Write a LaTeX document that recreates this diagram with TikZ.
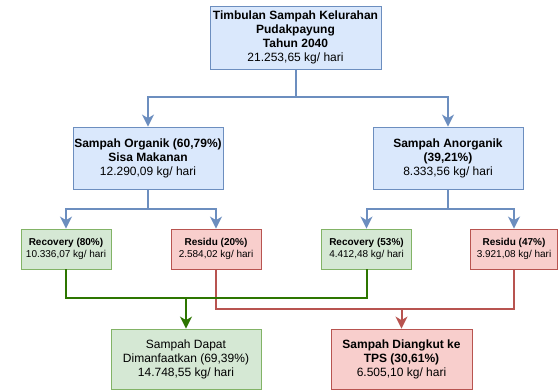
\documentclass[tikz,border=0pt]{standalone}
\usepackage{fontspec}
\setmainfont{Liberation Sans}
\usetikzlibrary{arrows.meta}
\definecolor{bluefill}{HTML}{DAE8FC}
\definecolor{bluedraw}{HTML}{6C8EBF}
\definecolor{greenfill}{HTML}{D5E8D4}
\definecolor{greendraw}{HTML}{82B366}
\definecolor{greenline}{HTML}{2D7600}
\definecolor{redfill}{HTML}{F8CECC}
\definecolor{reddraw}{HTML}{B85450}
\begin{document}
\begin{tikzpicture}[x=1pt, y=-1pt, font={\fontsize{12}{14}\selectfont}]
        \tikzstyle{block} = [rectangle, draw=bluedraw, fill=bluefill, line width=0.8pt,
                            align=center, inner sep=0pt]
        \tikzstyle{recbox} = [block, draw=greendraw, fill=greenfill, minimum width=90pt, minimum height=40pt,
                            font={\fontsize{10}{12}\selectfont}]
        \tikzstyle{resbox} = [recbox, draw=reddraw, fill=redfill]
        \tikzstyle{blueline} = [draw=bluedraw, line width=2pt]
        \tikzstyle{greenlink} = [draw=greenline, line width=2pt]
        \tikzstyle{redlink} = [draw=reddraw, line width=2pt]
        \tikzstyle{tip} = [-{Stealth[length=12pt,width=12pt,inset=3.5pt]}]

        \useasboundingbox (0,0) rectangle (559,389);

        % Timbulan total
        \node[block, minimum width=171pt, minimum height=63pt] (total) at (295.5,37.5)
            {\textbf{Timbulan Sampah Kelurahan}\\\textbf{Pudakpayung}\\\textbf{Tahun 2040}\\21.253,65 kg/ hari};

        % Organik / Anorganik
        \node[block, minimum width=150pt, minimum height=62pt] (organik) at (148,158)
            {\textbf{Sampah Organik (60,79\%)}\\\textbf{Sisa Makanan}\\12.290,09 kg/ hari};
        \node[block, minimum width=150pt, minimum height=62pt] (anorganik) at (448,158)
            {\textbf{Sampah Anorganik}\\\textbf{(39,21\%)}\\8.333,56 kg/ hari};

        % Recovery / Residu
        \node[recbox] (recovery1) at (66,249) {\textbf{Recovery (80\%)}\\10.336,07 kg/ hari};
        \node[resbox] (residu1) at (216,249) {\textbf{Residu (20\%)}\\2.584,02 kg/ hari};
        \node[recbox] (recovery2) at (366.5,249) {\textbf{Recovery (53\%)}\\4.412,48 kg/ hari};
        \node[resbox, minimum width=87pt] (residu2) at (514,249) {\textbf{Residu (47\%)}\\3.921,08 kg/ hari};

        % Hasil akhir
        \node[recbox, minimum width=150pt, minimum height=60pt, font={\fontsize{12}{14}\selectfont}] (dapat) at (186,359)
            {Sampah Dapat\\Dimanfaatkan (69,39\%)\\14.748,55 kg/ hari};
        \node[resbox, minimum width=141pt, minimum height=60pt, font={\fontsize{12}{14}\selectfont}] (diangkut) at (401.5,359)
            {\textbf{Sampah Diangkut ke}\\\textbf{TPS (30,61\%)}\\6.505,10 kg/ hari};

        % Titik cabang
        \coordinate (split0) at (295.5,97);
        \coordinate (split1) at (148,209);
        \coordinate (split2) at (448,209);
        \coordinate (joingreen) at (186,298);
        \coordinate (joinred) at (401.5,309);

        % Panah
        \draw[blueline] (total.south) -- (split0);
        \draw[blueline, tip] (split0) -| (organik.north);
        \draw[blueline, tip] (split0) -| (anorganik.north);
        \draw[blueline] (organik.south) -- (split1);
        \draw[blueline, tip] (split1) -| (recovery1.north);
        \draw[blueline, tip] (split1) -| (residu1.north);
        \draw[blueline] (anorganik.south) -- (split2);
        \draw[blueline, tip] (split2) -| (recovery2.north);
        \draw[blueline, tip] (split2) -| (residu2.north);

        \draw[redlink] (residu1.south) |- (joinred) -| (residu2.south);
        \draw[redlink, tip] (joinred) -- (diangkut.north);
        \draw[greenlink] (recovery1.south) |- (joingreen) -| (recovery2.south);
        \draw[greenlink, tip] (joingreen) -- (dapat.north);
    \end{tikzpicture}
\end{document}
